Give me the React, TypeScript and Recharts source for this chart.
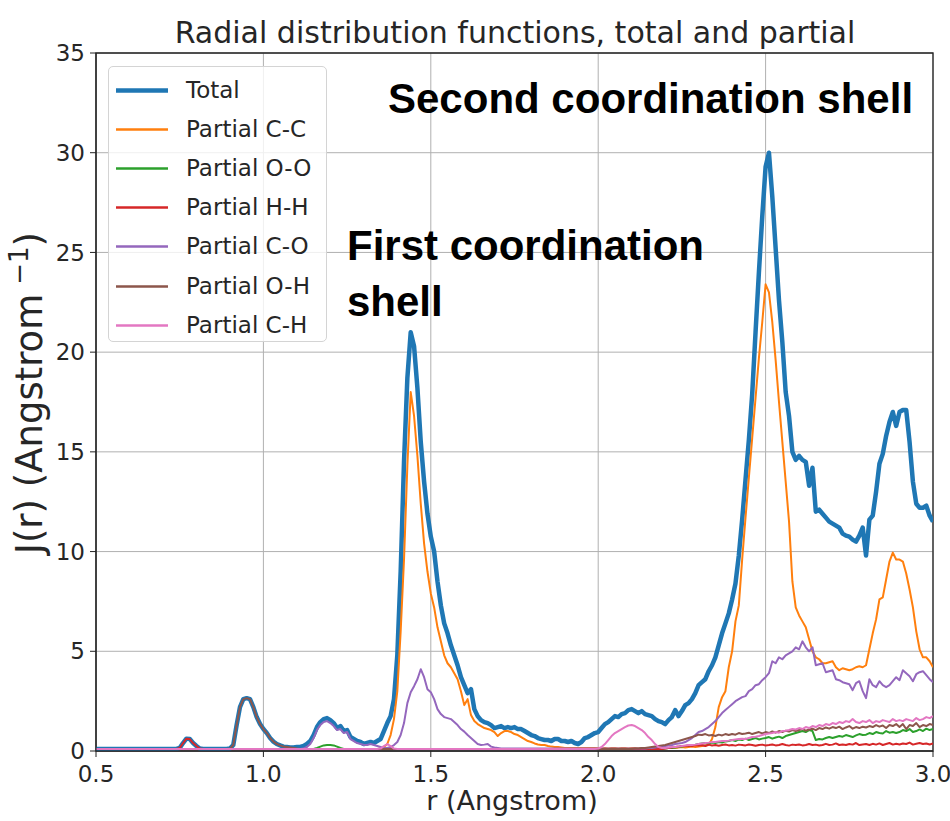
import React from 'react';
import { LineChart, Line, XAxis, YAxis, CartesianGrid, Legend, ReferenceArea } from 'recharts';

// Sampling grid: r from 0.50 to 3.00 Angstrom in steps of 0.01
const R_START = 0.5;
const R_STEP = 0.01;

const X_TICKS = [0.5, 1.0, 1.5, 2.0, 2.5, 3.0];
const Y_TICKS = [0, 5, 10, 15, 20, 25, 30, 35];

// J(r) values, one row per 0.10 Angstrom
const total = [
  0.1, 0.1, 0.1, 0.1, 0.1, 0.1, 0.1, 0.1, 0.1, 0.1,
  0.1, 0.1, 0.1, 0.1, 0.1, 0.1, 0.1, 0.1, 0.1, 0.1,
  0.1, 0.1, 0.1, 0.1, 0.1, 0.15, 0.4, 0.62, 0.6, 0.4,
  0.25, 0.12, 0.1, 0.1, 0.1, 0.1, 0.1, 0.1, 0.1, 0.1,
  0.12, 0.3, 1.3, 2.2, 2.6, 2.65, 2.6, 2.2, 1.7, 1.35,
  1.1, 0.9, 0.65, 0.47, 0.35, 0.28, 0.22, 0.2, 0.18, 0.18,
  0.2, 0.2, 0.25, 0.35, 0.5, 0.8, 1.2, 1.45, 1.6, 1.65,
  1.55, 1.4, 1.15, 1.25, 1.0, 1.05, 0.7, 0.6, 0.5, 0.45,
  0.35, 0.4, 0.45, 0.4, 0.5, 0.6, 1.0, 1.4, 1.75, 2.6,
  4.8, 9.0, 14.5, 18.7, 21.0, 20.3, 18.2, 15.5, 13.5, 11.9,
  10.75, 10.0, 8.5, 7.3, 6.4, 5.9, 5.3, 4.8, 4.3, 3.7,
  3.3, 2.9, 3.1, 2.1, 1.75, 1.55, 1.45, 1.4, 1.3, 1.15,
  1.2, 1.25, 1.15, 1.2, 1.15, 1.2, 1.1, 1.1, 1.0, 0.9,
  0.8, 0.75, 0.65, 0.6, 0.55, 0.55, 0.5, 0.6, 0.6, 0.5,
  0.5, 0.45, 0.5, 0.4, 0.35, 0.45, 0.65, 0.7, 0.8, 0.9,
  0.95, 1.15, 1.35, 1.45, 1.6, 1.75, 1.7, 1.85, 1.9, 2.05,
  2.1, 2.0, 1.9, 2.0, 1.85, 1.8, 1.75, 1.6, 1.5, 1.45,
  1.35, 1.55, 1.7, 2.05, 1.75, 2.0, 2.3, 2.4, 2.6, 2.9,
  3.3, 3.45, 3.6, 4.0, 4.3, 4.7, 5.3, 5.9, 6.4, 6.9,
  7.6, 8.4, 9.8, 11.6, 13.6, 15.6, 17.9, 21.0, 24.0, 26.8,
  29.3, 30.0, 27.8, 25.2, 22.6, 20.5, 18.0, 16.8, 15.0, 14.6,
  14.8, 14.6, 14.5, 13.3, 14.2, 12.0, 12.1, 11.9, 11.7, 11.5,
  11.4, 11.3, 11.2, 10.9, 10.8, 10.75, 10.6, 10.5, 10.8, 11.2,
  9.8, 11.6, 11.8, 13.0, 14.4, 14.9, 15.8, 16.5, 17.0, 16.3,
  17.0, 17.1, 17.1, 15.5, 13.5, 12.4, 12.2, 12.2, 12.3, 11.8,
  11.5,
];

const partialCC = [
  0.1, 0.1, 0.1, 0.1, 0.1, 0.1, 0.1, 0.1, 0.1, 0.1,
  0.1, 0.1, 0.1, 0.1, 0.1, 0.1, 0.1, 0.1, 0.1, 0.1,
  0.1, 0.1, 0.1, 0.1, 0.1, 0.1, 0.1, 0.1, 0.1, 0.1,
  0.1, 0.1, 0.1, 0.1, 0.1, 0.1, 0.1, 0.1, 0.1, 0.1,
  0.1, 0.1, 0.1, 0.1, 0.1, 0.1, 0.1, 0.1, 0.1, 0.1,
  0.1, 0.1, 0.1, 0.1, 0.1, 0.1, 0.1, 0.1, 0.1, 0.1,
  0.1, 0.1, 0.1, 0.1, 0.1, 0.1, 0.1, 0.1, 0.1, 0.1,
  0.1, 0.1, 0.1, 0.1, 0.1, 0.1, 0.1, 0.1, 0.1, 0.1,
  0.1, 0.1, 0.1, 0.1, 0.1, 0.12, 0.2, 0.35, 0.8, 1.6,
  3.0, 6.0, 9.6, 14.3, 18.0, 16.8, 14.8, 12.4, 10.4, 9.0,
  7.9, 7.2, 6.2, 5.5, 4.8, 4.4, 4.2, 3.9, 3.6, 3.0,
  2.3, 2.6, 1.8, 1.5, 1.35, 1.25, 1.15, 1.1, 1.05, 0.95,
  0.75, 0.9, 1.0, 1.0, 0.95, 0.85, 0.8, 0.7, 0.6, 0.5,
  0.45, 0.38, 0.33, 0.3, 0.3, 0.25, 0.22, 0.2, 0.2, 0.18,
  0.15, 0.15, 0.15, 0.15, 0.15, 0.15, 0.15, 0.15, 0.15, 0.15,
  0.15, 0.12, 0.15, 0.12, 0.15, 0.15, 0.12, 0.15, 0.15, 0.12,
  0.15, 0.15, 0.12, 0.15, 0.15, 0.12, 0.15, 0.15, 0.15, 0.15,
  0.15, 0.15, 0.18, 0.15, 0.18, 0.2, 0.18, 0.2, 0.22, 0.2,
  0.22, 0.25, 0.28, 0.3, 0.6, 1.2, 2.2, 2.7, 3.0, 4.2,
  5.0, 6.5, 7.3, 9.6, 11.7, 13.7, 15.7, 17.7, 19.7, 21.5,
  23.4, 23.0, 21.5, 19.6, 17.5, 15.5, 13.5, 11.5, 8.5, 7.2,
  6.8, 6.5, 6.2, 5.6, 5.0, 4.7, 4.6, 4.4, 4.4, 4.45,
  4.5, 4.2, 4.05, 4.15, 4.1, 4.05, 4.1, 4.2, 4.25, 4.2,
  4.3, 5.1, 5.9, 6.6, 7.6, 7.7, 8.6, 9.5, 9.95, 9.6,
  9.6, 9.5, 8.9, 8.1, 7.2, 6.0, 5.1, 4.7, 4.7, 4.5,
  4.2,
];

const partialOO = [
  0.1, 0.1, 0.1, 0.1, 0.1, 0.1, 0.1, 0.1, 0.1, 0.1,
  0.1, 0.1, 0.1, 0.1, 0.1, 0.1, 0.1, 0.1, 0.1, 0.1,
  0.1, 0.1, 0.1, 0.1, 0.1, 0.1, 0.1, 0.1, 0.1, 0.1,
  0.1, 0.1, 0.1, 0.1, 0.1, 0.1, 0.1, 0.1, 0.1, 0.1,
  0.1, 0.1, 0.1, 0.1, 0.1, 0.1, 0.1, 0.1, 0.1, 0.1,
  0.1, 0.1, 0.1, 0.1, 0.1, 0.1, 0.1, 0.1, 0.1, 0.1,
  0.1, 0.1, 0.1, 0.1, 0.1, 0.1, 0.15, 0.22, 0.28, 0.3,
  0.3, 0.28, 0.22, 0.15, 0.1, 0.1, 0.1, 0.1, 0.1, 0.1,
  0.1, 0.1, 0.1, 0.1, 0.1, 0.1, 0.1, 0.1, 0.1, 0.1,
  0.1, 0.1, 0.1, 0.1, 0.1, 0.1, 0.1, 0.1, 0.1, 0.1,
  0.1, 0.1, 0.1, 0.1, 0.1, 0.1, 0.1, 0.1, 0.1, 0.1,
  0.1, 0.1, 0.1, 0.1, 0.1, 0.1, 0.1, 0.1, 0.1, 0.1,
  0.1, 0.1, 0.1, 0.1, 0.1, 0.1, 0.1, 0.1, 0.1, 0.1,
  0.1, 0.1, 0.1, 0.1, 0.1, 0.1, 0.1, 0.1, 0.1, 0.1,
  0.1, 0.1, 0.1, 0.1, 0.1, 0.1, 0.1, 0.1, 0.1, 0.1,
  0.1, 0.1, 0.1, 0.1, 0.1, 0.1, 0.1, 0.1, 0.1, 0.1,
  0.1, 0.1, 0.1, 0.1, 0.1, 0.1, 0.1, 0.1, 0.1, 0.1,
  0.12, 0.15, 0.15, 0.18, 0.2, 0.22, 0.25, 0.28, 0.3, 0.32,
  0.35, 0.38, 0.4, 0.38, 0.42, 0.4, 0.45, 0.42, 0.48, 0.5,
  0.55, 0.5, 0.58, 0.55, 0.62, 0.55, 0.6, 0.65, 0.58, 0.62,
  0.65, 0.7, 0.62, 0.68, 0.72, 0.65, 0.75, 0.8, 0.85, 0.9,
  0.95, 1.0, 0.95, 1.05, 1.0, 0.55, 0.6, 0.58, 0.65, 0.7,
  0.65, 0.7, 0.75, 0.72, 0.8, 0.75, 0.7, 0.78, 0.85, 0.8,
  0.82, 0.9, 0.85, 0.95, 0.9, 0.88, 1.0, 0.92, 0.95, 0.9,
  0.95, 1.05, 1.0, 1.1, 0.95, 1.0, 1.08, 1.0, 1.12, 1.05,
  1.1,
];

const partialHH = [
  0.1, 0.1, 0.1, 0.1, 0.1, 0.1, 0.1, 0.1, 0.1, 0.1,
  0.1, 0.1, 0.1, 0.1, 0.1, 0.1, 0.1, 0.1, 0.1, 0.1,
  0.1, 0.1, 0.1, 0.1, 0.1, 0.15, 0.4, 0.62, 0.6, 0.4,
  0.25, 0.12, 0.1, 0.1, 0.1, 0.1, 0.1, 0.1, 0.1, 0.1,
  0.1, 0.1, 0.1, 0.1, 0.1, 0.1, 0.1, 0.1, 0.1, 0.1,
  0.1, 0.1, 0.1, 0.1, 0.1, 0.1, 0.1, 0.1, 0.1, 0.1,
  0.1, 0.1, 0.1, 0.1, 0.1, 0.1, 0.1, 0.1, 0.1, 0.1,
  0.1, 0.1, 0.1, 0.1, 0.1, 0.1, 0.1, 0.1, 0.1, 0.1,
  0.1, 0.1, 0.1, 0.1, 0.1, 0.1, 0.1, 0.1, 0.1, 0.1,
  0.1, 0.1, 0.1, 0.1, 0.1, 0.1, 0.1, 0.1, 0.1, 0.1,
  0.1, 0.1, 0.1, 0.1, 0.1, 0.1, 0.1, 0.1, 0.1, 0.1,
  0.1, 0.1, 0.1, 0.1, 0.1, 0.1, 0.1, 0.1, 0.1, 0.1,
  0.1, 0.1, 0.1, 0.1, 0.1, 0.1, 0.1, 0.1, 0.1, 0.1,
  0.1, 0.1, 0.1, 0.1, 0.1, 0.1, 0.1, 0.1, 0.1, 0.1,
  0.1, 0.1, 0.1, 0.1, 0.1, 0.1, 0.1, 0.1, 0.1, 0.1,
  0.1, 0.1, 0.1, 0.1, 0.1, 0.1, 0.1, 0.1, 0.1, 0.1,
  0.1, 0.1, 0.1, 0.1, 0.1, 0.1, 0.1, 0.1, 0.1, 0.1,
  0.12, 0.15, 0.18, 0.2, 0.22, 0.25, 0.25, 0.28, 0.25, 0.3,
  0.28, 0.3, 0.25, 0.32, 0.28, 0.3, 0.26, 0.3, 0.33, 0.28,
  0.3, 0.27, 0.32, 0.3, 0.28, 0.33, 0.3, 0.26, 0.3, 0.32,
  0.28, 0.3, 0.33, 0.28, 0.3, 0.35, 0.3, 0.27, 0.32, 0.3,
  0.33, 0.28, 0.3, 0.35, 0.3, 0.32, 0.28, 0.3, 0.36, 0.3,
  0.32, 0.38, 0.3, 0.33, 0.3, 0.35, 0.32, 0.4, 0.3, 0.33,
  0.35, 0.3, 0.36, 0.32, 0.38, 0.3, 0.35, 0.4, 0.32, 0.36,
  0.33, 0.38, 0.35, 0.42, 0.32, 0.36, 0.4, 0.35, 0.38, 0.33,
  0.38,
];

const partialCO = [
  0.1, 0.1, 0.1, 0.1, 0.1, 0.1, 0.1, 0.1, 0.1, 0.1,
  0.1, 0.1, 0.1, 0.1, 0.1, 0.1, 0.1, 0.1, 0.1, 0.1,
  0.1, 0.1, 0.1, 0.1, 0.1, 0.1, 0.1, 0.1, 0.1, 0.1,
  0.1, 0.1, 0.1, 0.1, 0.1, 0.1, 0.1, 0.1, 0.1, 0.1,
  0.1, 0.1, 0.1, 0.1, 0.1, 0.1, 0.1, 0.1, 0.1, 0.1,
  0.1, 0.1, 0.1, 0.1, 0.1, 0.1, 0.1, 0.1, 0.1, 0.1,
  0.1, 0.1, 0.12, 0.2, 0.35, 0.65, 1.05, 1.3, 1.45, 1.5,
  1.4, 1.25, 1.05, 1.1, 0.9, 0.95, 0.6, 0.5, 0.4, 0.35,
  0.3, 0.3, 0.35, 0.3, 0.25, 0.2, 0.15, 0.15, 0.2, 0.3,
  0.45, 0.8, 1.4, 2.4, 2.95, 3.25, 3.6, 4.1, 3.7, 3.1,
  2.95, 2.6, 2.1, 1.85, 1.7, 1.65, 1.6, 1.45, 1.3, 1.1,
  0.97, 0.8, 0.65, 0.5, 0.35, 0.3, 0.32, 0.35, 0.22, 0.18,
  0.15, 0.12, 0.12, 0.12, 0.12, 0.12, 0.12, 0.12, 0.12, 0.12,
  0.12, 0.12, 0.12, 0.12, 0.12, 0.12, 0.12, 0.12, 0.12, 0.12,
  0.12, 0.12, 0.12, 0.12, 0.12, 0.12, 0.12, 0.12, 0.12, 0.12,
  0.12, 0.12, 0.12, 0.12, 0.12, 0.12, 0.12, 0.12, 0.12, 0.12,
  0.12, 0.12, 0.12, 0.12, 0.12, 0.15, 0.15, 0.18, 0.2, 0.2,
  0.25, 0.28, 0.3, 0.35, 0.38, 0.4, 0.45, 0.55, 0.65, 0.8,
  0.95, 1.0, 1.1, 1.2, 1.35, 1.5, 1.7, 1.9, 2.05, 2.2,
  2.35, 2.5, 2.6, 2.7, 2.75, 3.0, 3.1, 3.3, 3.35, 3.55,
  3.7, 3.9, 4.5, 4.4, 4.7, 4.6, 4.8, 4.9, 5.0, 5.2,
  5.1, 5.5, 5.2, 5.0, 5.2, 4.3, 4.35, 4.4, 3.95, 4.0,
  4.05, 3.6, 3.55, 3.45, 3.4, 3.35, 3.05, 3.4, 3.5, 3.0,
  2.65, 3.6, 3.3, 3.2, 3.5, 3.3, 3.2, 3.3, 3.5, 3.7,
  3.55, 4.05, 3.9, 3.75, 3.5, 3.85, 3.95, 4.0, 3.8, 3.6,
  3.45,
];

const partialOH = [
  0.1, 0.1, 0.1, 0.1, 0.1, 0.1, 0.1, 0.1, 0.1, 0.1,
  0.1, 0.1, 0.1, 0.1, 0.1, 0.1, 0.1, 0.1, 0.1, 0.1,
  0.1, 0.1, 0.1, 0.1, 0.1, 0.1, 0.1, 0.1, 0.1, 0.1,
  0.1, 0.1, 0.1, 0.1, 0.1, 0.1, 0.1, 0.1, 0.1, 0.1,
  0.12, 0.3, 1.3, 2.2, 2.6, 2.65, 2.6, 2.2, 1.7, 1.35,
  1.1, 0.9, 0.65, 0.47, 0.35, 0.28, 0.22, 0.2, 0.18, 0.15,
  0.12, 0.1, 0.1, 0.1, 0.1, 0.1, 0.1, 0.1, 0.1, 0.1,
  0.1, 0.1, 0.1, 0.1, 0.1, 0.1, 0.1, 0.1, 0.1, 0.1,
  0.1, 0.1, 0.1, 0.1, 0.1, 0.1, 0.1, 0.1, 0.1, 0.1,
  0.1, 0.1, 0.1, 0.1, 0.1, 0.1, 0.1, 0.1, 0.1, 0.1,
  0.1, 0.1, 0.1, 0.1, 0.1, 0.1, 0.1, 0.1, 0.1, 0.1,
  0.1, 0.1, 0.1, 0.1, 0.1, 0.1, 0.1, 0.1, 0.1, 0.1,
  0.1, 0.1, 0.1, 0.1, 0.1, 0.1, 0.1, 0.1, 0.1, 0.1,
  0.1, 0.1, 0.1, 0.1, 0.1, 0.1, 0.1, 0.1, 0.1, 0.1,
  0.1, 0.1, 0.1, 0.1, 0.1, 0.1, 0.1, 0.1, 0.1, 0.1,
  0.1, 0.1, 0.1, 0.1, 0.1, 0.1, 0.1, 0.1, 0.1, 0.1,
  0.1, 0.12, 0.12, 0.15, 0.15, 0.18, 0.2, 0.22, 0.25, 0.28,
  0.3, 0.35, 0.4, 0.45, 0.5, 0.55, 0.6, 0.65, 0.7, 0.75,
  0.82, 0.8, 0.85, 0.78, 0.8, 0.75, 0.82, 0.78, 0.85, 0.8,
  0.85, 0.82, 0.9, 0.85, 0.88, 0.92, 0.85, 0.9, 0.95, 0.88,
  0.95, 0.9, 0.98, 0.92, 1.0, 0.95, 1.02, 0.98, 1.05, 1.0,
  1.05, 1.1, 1.02, 1.08, 1.12, 1.05, 1.15, 1.1, 1.18, 1.12,
  1.2, 1.15, 1.22, 1.1, 1.18, 1.25, 1.12, 1.2, 1.15, 1.22,
  1.18, 1.25, 1.2, 1.3, 1.22, 1.28, 1.15, 1.3, 1.25, 1.35,
  1.2, 1.35, 1.1, 1.3, 1.25, 1.4, 1.2, 1.3, 1.25, 1.35,
  1.3,
];

const partialCH = [
  0.1, 0.1, 0.1, 0.1, 0.1, 0.1, 0.1, 0.1, 0.1, 0.1,
  0.1, 0.1, 0.1, 0.1, 0.1, 0.1, 0.1, 0.1, 0.1, 0.1,
  0.1, 0.1, 0.1, 0.1, 0.1, 0.1, 0.1, 0.1, 0.1, 0.1,
  0.1, 0.1, 0.1, 0.1, 0.1, 0.1, 0.1, 0.1, 0.1, 0.1,
  0.1, 0.1, 0.1, 0.1, 0.1, 0.1, 0.1, 0.1, 0.1, 0.1,
  0.1, 0.1, 0.1, 0.1, 0.1, 0.1, 0.1, 0.1, 0.1, 0.1,
  0.1, 0.1, 0.1, 0.1, 0.1, 0.1, 0.1, 0.1, 0.1, 0.1,
  0.1, 0.1, 0.1, 0.1, 0.1, 0.1, 0.1, 0.1, 0.1, 0.1,
  0.1, 0.1, 0.1, 0.1, 0.1, 0.12, 0.25, 0.35, 0.25, 0.12,
  0.1, 0.1, 0.1, 0.1, 0.1, 0.1, 0.1, 0.1, 0.1, 0.1,
  0.1, 0.1, 0.1, 0.1, 0.1, 0.1, 0.1, 0.1, 0.1, 0.1,
  0.1, 0.1, 0.1, 0.1, 0.1, 0.1, 0.1, 0.1, 0.1, 0.1,
  0.1, 0.1, 0.1, 0.1, 0.1, 0.1, 0.1, 0.1, 0.1, 0.1,
  0.1, 0.1, 0.1, 0.1, 0.1, 0.1, 0.1, 0.1, 0.1, 0.1,
  0.1, 0.1, 0.1, 0.1, 0.1, 0.1, 0.1, 0.1, 0.1, 0.1,
  0.12, 0.2, 0.35, 0.55, 0.75, 0.9, 1.0, 1.1, 1.2, 1.28,
  1.3, 1.25, 1.15, 1.05, 0.9, 0.7, 0.55, 0.35, 0.2, 0.15,
  0.15, 0.18, 0.2, 0.2, 0.22, 0.25, 0.28, 0.3, 0.3, 0.32,
  0.35, 0.38, 0.4, 0.42, 0.45, 0.45, 0.48, 0.5, 0.5, 0.52,
  0.55, 0.58, 0.6, 0.62, 0.6, 0.65, 0.7, 0.72, 0.75, 0.8,
  0.85, 0.88, 0.9, 0.95, 0.92, 1.0, 1.02, 1.05, 1.1, 1.08,
  1.15, 1.1, 1.2, 1.15, 1.25, 1.2, 1.3, 1.25, 1.35, 1.3,
  1.4, 1.35, 1.45, 1.4, 1.5, 1.45, 1.6, 1.45, 1.4, 1.5,
  1.45, 1.55, 1.4, 1.5, 1.45, 1.55, 1.5, 1.45, 1.6, 1.5,
  1.55, 1.5, 1.6, 1.55, 1.5, 1.65, 1.55, 1.6, 1.7, 1.65,
  1.75,
];

// Series in drawing order (later ones are painted on top)
const SERIES = [
  { key: 'total', name: 'Total', color: '#1f77b4', width: 4.5, values: total },
  { key: 'cc', name: 'Partial C-C', color: '#ff7f0e', width: 2, values: partialCC },
  { key: 'oo', name: 'Partial O-O', color: '#2ca02c', width: 2, values: partialOO },
  { key: 'hh', name: 'Partial H-H', color: '#d62728', width: 2, values: partialHH },
  { key: 'co', name: 'Partial C-O', color: '#9467bd', width: 2, values: partialCO },
  { key: 'oh', name: 'Partial O-H', color: '#8c564b', width: 2, values: partialOH },
  { key: 'ch', name: 'Partial C-H', color: '#e377c2', width: 2, values: partialCH },
];

const rows = total.map((_, i) => {
  const row: Record<string, number> = { r: Math.round((R_START + i * R_STEP) * 100) / 100 };
  SERIES.forEach((s) => {
    row[s.key] = s.values[i];
  });
  return row;
});

const FONT = 'DejaVu Sans, sans-serif';
const BOLD_FONT = 'Liberation Sans, Arial, sans-serif';
const INK = '#262626';

// Legend entries are listed in plotting order, as matplotlib does
const LegendBox = (props: any) => {
  const payload: any[] = props.payload || [];
  const colorOf = (name: string, fallback: string) => {
    const hit = payload.find((p) => p.value === name);
    return hit && hit.color ? hit.color : fallback;
  };
  return (
    <div
      style={{
        position: 'relative',
        boxSizing: 'border-box',
        width: 219,
        height: 276,
        border: '1px solid #d4d4d4',
        borderRadius: 5,
        background: 'rgba(255,255,255,0.8)',
      }}
    >
      {SERIES.map((s, i) => (
        <div
          key={s.key}
          style={{ position: 'absolute', left: 0, top: 4 + i * 39.1, height: 39, width: 219 }}
        >
          <svg width={70} height={39} style={{ position: 'absolute', left: 0, top: 0 }}>
            <line
              x1={7}
              x2={59}
              y1={19.5}
              y2={19.5}
              stroke={colorOf(s.name, s.color)}
              strokeWidth={s.key === 'total' ? 4.5 : 2.5}
            />
          </svg>
          <span
            style={{
              position: 'absolute',
              left: 77,
              top: 0,
              lineHeight: '39px',
              fontFamily: FONT,
              fontSize: 23,
              color: INK,
              whiteSpace: 'nowrap',
            }}
          >
            {s.name}
          </span>
        </div>
      ))}
    </div>
  );
};

export default function App() {
  return (
    <div style={{ position: 'absolute', left: 0, top: 0, width: 950, height: 821, background: '#ffffff' }}>
      <LineChart
        width={950}
        height={821}
        data={rows}
        margin={{ top: 53, right: 17, bottom: 30, left: 36 }}
      >
        <CartesianGrid stroke="#b0b0b0" strokeWidth={1} />
        <XAxis
          type="number"
          dataKey="r"
          domain={[0.5, 3]}
          ticks={X_TICKS}
          interval={0}
          allowDataOverflow
          tickFormatter={(v: number) => v.toFixed(1)}
          height={40}
          tickSize={6}
          tickMargin={9}
          stroke="#222"
          tick={{ fontSize: 23, fontFamily: FONT, fill: INK }}
        />
        <YAxis
          type="number"
          domain={[0, 35]}
          ticks={Y_TICKS}
          interval={0}
          allowDataOverflow
          width={60}
          tickSize={6}
          tickMargin={5}
          stroke="#222"
          tick={{ fontSize: 23, fontFamily: FONT, fill: INK }}
        />
        <ReferenceArea
          x1={0.5}
          x2={3}
          y1={0}
          y2={35}
          fill="none"
          stroke="#222"
          strokeWidth={1.3}
          ifOverflow="visible"
        />
        {SERIES.map((s) => (
          <Line
            key={s.key}
            type="linear"
            dataKey={s.key}
            name={s.name}
            stroke={s.color}
            strokeWidth={s.width}
            strokeLinejoin="round"
            dot={false}
            activeDot={false}
            isAnimationActive={false}
          />
        ))}
        <Legend
          layout="vertical"
          align="center"
          verticalAlign="middle"
          content={<LegendBox />}
          wrapperStyle={{ left: 108, top: 66, width: 219, height: 276 }}
        />
      </LineChart>
      <svg
        width={950}
        height={821}
        style={{ position: 'absolute', left: 0, top: 0, pointerEvents: 'none' }}
      >
        <text x={515} y={43} textAnchor="middle" fontSize={30} fontFamily={FONT} fill={INK}>
          Radial distribution functions, total and partial
        </text>
        <text x={512} y={810} textAnchor="middle" fontSize={27} fontFamily={FONT} fill={INK}>
          r (Angstrom)
        </text>
        <text
          transform="translate(42,393) rotate(-90)"
          textAnchor="middle"
          fontSize={37}
          fontFamily={FONT}
          fill={INK}
        >
          J(r) (Angstrom
          <tspan dx={9} dy={-14} fontSize={26}>
            −1
          </tspan>
          <tspan dy={14}>)</tspan>
        </text>
        <text x={388} y={113} fontSize={42} fontWeight="bold" fontFamily={BOLD_FONT} fill="#000">
          Second coordination shell
        </text>
        <text x={347} y={260} fontSize={42} fontWeight="bold" fontFamily={BOLD_FONT} fill="#000">
          First coordination
        </text>
        <text x={347} y={316} fontSize={42} fontWeight="bold" fontFamily={BOLD_FONT} fill="#000">
          shell
        </text>
      </svg>
    </div>
  );
}
